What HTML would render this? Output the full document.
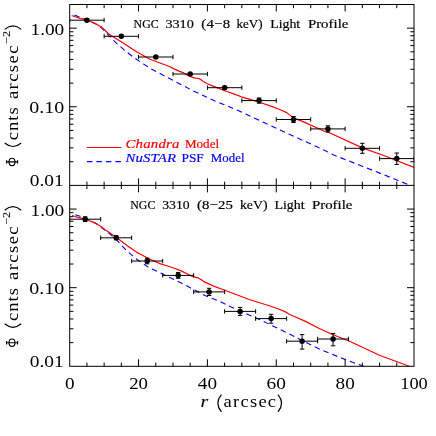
<!DOCTYPE html>
<html><head><meta charset="utf-8"><title>NGC 3310 Light Profile</title>
<style>html,body{margin:0;padding:0;background:#fff;}body{width:436px;height:436px;overflow:hidden;font-family:"Liberation Serif",serif;}svg{display:block;}</style></head>
<body>
<svg width="436" height="436" viewBox="0 0 436 436">
<rect width="436" height="436" fill="#fff"/>
<defs><clipPath id="c1"><rect x="69.70" y="4.50" width="344.30" height="180.90"/></clipPath><clipPath id="c2"><rect x="69.70" y="185.40" width="344.30" height="180.90"/></clipPath></defs>
<polyline points="74.3,15.1 80.0,17.3 87.0,20.0 94.0,23.0 100.0,26.5 105.0,31.3 109.0,35.8 116.6,43.3 125.0,50.6 133.0,56.9 142.0,63.1 150.7,68.6 170.0,78.8 191.3,89.9 215.0,101.0 237.0,110.0 280.0,130.0 325.0,150.5 333.0,154.7 362.4,166.3 409.5,185.0 414.0,187.0" fill="none" stroke="#0000ff" stroke-width="1.1" stroke-linejoin="round" stroke-dasharray="5.5,4" clip-path="url(#c1)"/>
<polyline points="71.7,15.5 76.0,17.0 80.5,18.6 85.0,19.2 87.0,20.2 96.0,23.9 101.1,26.8 105.0,30.3 109.4,34.6 118.0,39.8 127.0,45.4 137.0,52.0 150.0,59.2 160.0,63.0 170.0,66.7 175.0,69.4 179.6,71.4 183.0,72.6 186.0,74.4 190.0,76.4 194.1,77.9 198.9,78.5 201.0,79.8 203.7,81.7 207.5,83.8 211.7,85.6 218.2,88.1 226.2,91.3 233.0,93.6 241.3,96.8 250.0,99.3 258.8,102.0 272.3,106.6 281.0,110.0 286.7,112.6 293.4,117.9 303.1,121.6 325.0,131.5 330.0,133.0 362.4,147.9 385.7,156.2 414.0,167.5" fill="none" stroke="#ff0000" stroke-width="1.2" stroke-linejoin="round" clip-path="url(#c1)"/>
<polyline points="75.3,214.7 80.0,216.2 85.0,218.0 96.0,223.5 106.0,231.0 110.0,234.0 116.6,239.9 127.0,251.0 137.0,259.5 147.6,266.7 160.0,272.8 181.3,283.0 205.0,295.5 220.0,301.4 230.0,306.6 261.3,320.3 290.0,334.3 303.4,341.1 319.8,349.2 345.2,359.6 361.6,365.5 370.0,369.0" fill="none" stroke="#0000ff" stroke-width="1.1" stroke-linejoin="round" stroke-dasharray="5.5,4" clip-path="url(#c2)"/>
<polyline points="72.1,215.5 75.0,216.5 78.0,217.3 85.0,219.0 96.0,223.4 101.0,226.5 106.3,230.6 116.2,237.3 127.0,245.5 137.0,252.4 140.0,254.0 150.0,259.3 160.0,263.6 166.0,265.5 172.4,267.5 180.6,270.6 187.0,273.8 193.0,276.7 198.2,277.9 201.0,279.6 204.4,281.9 213.7,286.1 221.9,289.2 230.2,292.3 242.6,297.0 250.0,299.8 261.3,303.2 270.0,306.0 279.2,309.2 285.6,311.9 290.2,314.8 295.0,316.7 304.9,321.1 319.8,328.7 333.2,334.7 349.6,341.3 379.4,355.2 409.3,366.2 414.0,368.0" fill="none" stroke="#ff0000" stroke-width="1.2" stroke-linejoin="round" clip-path="url(#c2)"/>
<line x1="86.9" y1="147.5" x2="121.3" y2="147.5" stroke="#ff0000" stroke-width="1.2"/>
<line x1="86.9" y1="161.6" x2="121.3" y2="161.6" stroke="#0000ff" stroke-width="1.1" stroke-dasharray="5.5,4"/>
<rect x="69.70" y="4.50" width="344.30" height="361.80" fill="none" stroke="#000" stroke-width="1.0"/>
<line x1="69.70" y1="185.40" x2="414.00" y2="185.40" stroke="#000" stroke-width="1.0"/>
<line x1="86.92" y1="4.50" x2="86.92" y2="8.20" stroke="#000" stroke-width="1.0"/>
<line x1="86.92" y1="185.40" x2="86.92" y2="181.70" stroke="#000" stroke-width="1.0"/>
<line x1="104.13" y1="4.50" x2="104.13" y2="8.20" stroke="#000" stroke-width="1.0"/>
<line x1="104.13" y1="185.40" x2="104.13" y2="181.70" stroke="#000" stroke-width="1.0"/>
<line x1="121.34" y1="4.50" x2="121.34" y2="8.20" stroke="#000" stroke-width="1.0"/>
<line x1="121.34" y1="185.40" x2="121.34" y2="181.70" stroke="#000" stroke-width="1.0"/>
<line x1="138.56" y1="4.50" x2="138.56" y2="11.50" stroke="#000" stroke-width="1.0"/>
<line x1="138.56" y1="185.40" x2="138.56" y2="178.40" stroke="#000" stroke-width="1.0"/>
<line x1="155.78" y1="4.50" x2="155.78" y2="8.20" stroke="#000" stroke-width="1.0"/>
<line x1="155.78" y1="185.40" x2="155.78" y2="181.70" stroke="#000" stroke-width="1.0"/>
<line x1="172.99" y1="4.50" x2="172.99" y2="8.20" stroke="#000" stroke-width="1.0"/>
<line x1="172.99" y1="185.40" x2="172.99" y2="181.70" stroke="#000" stroke-width="1.0"/>
<line x1="190.20" y1="4.50" x2="190.20" y2="8.20" stroke="#000" stroke-width="1.0"/>
<line x1="190.20" y1="185.40" x2="190.20" y2="181.70" stroke="#000" stroke-width="1.0"/>
<line x1="207.42" y1="4.50" x2="207.42" y2="11.50" stroke="#000" stroke-width="1.0"/>
<line x1="207.42" y1="185.40" x2="207.42" y2="178.40" stroke="#000" stroke-width="1.0"/>
<line x1="224.63" y1="4.50" x2="224.63" y2="8.20" stroke="#000" stroke-width="1.0"/>
<line x1="224.63" y1="185.40" x2="224.63" y2="181.70" stroke="#000" stroke-width="1.0"/>
<line x1="241.85" y1="4.50" x2="241.85" y2="8.20" stroke="#000" stroke-width="1.0"/>
<line x1="241.85" y1="185.40" x2="241.85" y2="181.70" stroke="#000" stroke-width="1.0"/>
<line x1="259.06" y1="4.50" x2="259.06" y2="8.20" stroke="#000" stroke-width="1.0"/>
<line x1="259.06" y1="185.40" x2="259.06" y2="181.70" stroke="#000" stroke-width="1.0"/>
<line x1="276.28" y1="4.50" x2="276.28" y2="11.50" stroke="#000" stroke-width="1.0"/>
<line x1="276.28" y1="185.40" x2="276.28" y2="178.40" stroke="#000" stroke-width="1.0"/>
<line x1="293.50" y1="4.50" x2="293.50" y2="8.20" stroke="#000" stroke-width="1.0"/>
<line x1="293.50" y1="185.40" x2="293.50" y2="181.70" stroke="#000" stroke-width="1.0"/>
<line x1="310.71" y1="4.50" x2="310.71" y2="8.20" stroke="#000" stroke-width="1.0"/>
<line x1="310.71" y1="185.40" x2="310.71" y2="181.70" stroke="#000" stroke-width="1.0"/>
<line x1="327.93" y1="4.50" x2="327.93" y2="8.20" stroke="#000" stroke-width="1.0"/>
<line x1="327.93" y1="185.40" x2="327.93" y2="181.70" stroke="#000" stroke-width="1.0"/>
<line x1="345.14" y1="4.50" x2="345.14" y2="11.50" stroke="#000" stroke-width="1.0"/>
<line x1="345.14" y1="185.40" x2="345.14" y2="178.40" stroke="#000" stroke-width="1.0"/>
<line x1="362.35" y1="4.50" x2="362.35" y2="8.20" stroke="#000" stroke-width="1.0"/>
<line x1="362.35" y1="185.40" x2="362.35" y2="181.70" stroke="#000" stroke-width="1.0"/>
<line x1="379.57" y1="4.50" x2="379.57" y2="8.20" stroke="#000" stroke-width="1.0"/>
<line x1="379.57" y1="185.40" x2="379.57" y2="181.70" stroke="#000" stroke-width="1.0"/>
<line x1="396.78" y1="4.50" x2="396.78" y2="8.20" stroke="#000" stroke-width="1.0"/>
<line x1="396.78" y1="185.40" x2="396.78" y2="181.70" stroke="#000" stroke-width="1.0"/>
<line x1="69.70" y1="161.73" x2="73.40" y2="161.73" stroke="#000" stroke-width="1.0"/>
<line x1="414.00" y1="161.73" x2="410.30" y2="161.73" stroke="#000" stroke-width="1.0"/>
<line x1="69.70" y1="147.89" x2="73.40" y2="147.89" stroke="#000" stroke-width="1.0"/>
<line x1="414.00" y1="147.89" x2="410.30" y2="147.89" stroke="#000" stroke-width="1.0"/>
<line x1="69.70" y1="138.07" x2="73.40" y2="138.07" stroke="#000" stroke-width="1.0"/>
<line x1="414.00" y1="138.07" x2="410.30" y2="138.07" stroke="#000" stroke-width="1.0"/>
<line x1="69.70" y1="130.45" x2="73.40" y2="130.45" stroke="#000" stroke-width="1.0"/>
<line x1="414.00" y1="130.45" x2="410.30" y2="130.45" stroke="#000" stroke-width="1.0"/>
<line x1="69.70" y1="124.22" x2="73.40" y2="124.22" stroke="#000" stroke-width="1.0"/>
<line x1="414.00" y1="124.22" x2="410.30" y2="124.22" stroke="#000" stroke-width="1.0"/>
<line x1="69.70" y1="118.96" x2="73.40" y2="118.96" stroke="#000" stroke-width="1.0"/>
<line x1="414.00" y1="118.96" x2="410.30" y2="118.96" stroke="#000" stroke-width="1.0"/>
<line x1="69.70" y1="114.40" x2="73.40" y2="114.40" stroke="#000" stroke-width="1.0"/>
<line x1="414.00" y1="114.40" x2="410.30" y2="114.40" stroke="#000" stroke-width="1.0"/>
<line x1="69.70" y1="110.38" x2="73.40" y2="110.38" stroke="#000" stroke-width="1.0"/>
<line x1="414.00" y1="110.38" x2="410.30" y2="110.38" stroke="#000" stroke-width="1.0"/>
<line x1="69.70" y1="106.78" x2="76.70" y2="106.78" stroke="#000" stroke-width="1.0"/>
<line x1="414.00" y1="106.78" x2="407.00" y2="106.78" stroke="#000" stroke-width="1.0"/>
<line x1="69.70" y1="83.12" x2="73.40" y2="83.12" stroke="#000" stroke-width="1.0"/>
<line x1="414.00" y1="83.12" x2="410.30" y2="83.12" stroke="#000" stroke-width="1.0"/>
<line x1="69.70" y1="69.27" x2="73.40" y2="69.27" stroke="#000" stroke-width="1.0"/>
<line x1="414.00" y1="69.27" x2="410.30" y2="69.27" stroke="#000" stroke-width="1.0"/>
<line x1="69.70" y1="59.45" x2="73.40" y2="59.45" stroke="#000" stroke-width="1.0"/>
<line x1="414.00" y1="59.45" x2="410.30" y2="59.45" stroke="#000" stroke-width="1.0"/>
<line x1="69.70" y1="51.83" x2="73.40" y2="51.83" stroke="#000" stroke-width="1.0"/>
<line x1="414.00" y1="51.83" x2="410.30" y2="51.83" stroke="#000" stroke-width="1.0"/>
<line x1="69.70" y1="45.61" x2="73.40" y2="45.61" stroke="#000" stroke-width="1.0"/>
<line x1="414.00" y1="45.61" x2="410.30" y2="45.61" stroke="#000" stroke-width="1.0"/>
<line x1="69.70" y1="40.34" x2="73.40" y2="40.34" stroke="#000" stroke-width="1.0"/>
<line x1="414.00" y1="40.34" x2="410.30" y2="40.34" stroke="#000" stroke-width="1.0"/>
<line x1="69.70" y1="35.78" x2="73.40" y2="35.78" stroke="#000" stroke-width="1.0"/>
<line x1="414.00" y1="35.78" x2="410.30" y2="35.78" stroke="#000" stroke-width="1.0"/>
<line x1="69.70" y1="31.76" x2="73.40" y2="31.76" stroke="#000" stroke-width="1.0"/>
<line x1="414.00" y1="31.76" x2="410.30" y2="31.76" stroke="#000" stroke-width="1.0"/>
<line x1="69.70" y1="28.17" x2="76.70" y2="28.17" stroke="#000" stroke-width="1.0"/>
<line x1="414.00" y1="28.17" x2="407.00" y2="28.17" stroke="#000" stroke-width="1.0"/>
<line x1="86.92" y1="185.40" x2="86.92" y2="189.10" stroke="#000" stroke-width="1.0"/>
<line x1="86.92" y1="366.30" x2="86.92" y2="362.60" stroke="#000" stroke-width="1.0"/>
<line x1="104.13" y1="185.40" x2="104.13" y2="189.10" stroke="#000" stroke-width="1.0"/>
<line x1="104.13" y1="366.30" x2="104.13" y2="362.60" stroke="#000" stroke-width="1.0"/>
<line x1="121.34" y1="185.40" x2="121.34" y2="189.10" stroke="#000" stroke-width="1.0"/>
<line x1="121.34" y1="366.30" x2="121.34" y2="362.60" stroke="#000" stroke-width="1.0"/>
<line x1="138.56" y1="185.40" x2="138.56" y2="192.40" stroke="#000" stroke-width="1.0"/>
<line x1="138.56" y1="366.30" x2="138.56" y2="359.30" stroke="#000" stroke-width="1.0"/>
<line x1="155.78" y1="185.40" x2="155.78" y2="189.10" stroke="#000" stroke-width="1.0"/>
<line x1="155.78" y1="366.30" x2="155.78" y2="362.60" stroke="#000" stroke-width="1.0"/>
<line x1="172.99" y1="185.40" x2="172.99" y2="189.10" stroke="#000" stroke-width="1.0"/>
<line x1="172.99" y1="366.30" x2="172.99" y2="362.60" stroke="#000" stroke-width="1.0"/>
<line x1="190.20" y1="185.40" x2="190.20" y2="189.10" stroke="#000" stroke-width="1.0"/>
<line x1="190.20" y1="366.30" x2="190.20" y2="362.60" stroke="#000" stroke-width="1.0"/>
<line x1="207.42" y1="185.40" x2="207.42" y2="192.40" stroke="#000" stroke-width="1.0"/>
<line x1="207.42" y1="366.30" x2="207.42" y2="359.30" stroke="#000" stroke-width="1.0"/>
<line x1="224.63" y1="185.40" x2="224.63" y2="189.10" stroke="#000" stroke-width="1.0"/>
<line x1="224.63" y1="366.30" x2="224.63" y2="362.60" stroke="#000" stroke-width="1.0"/>
<line x1="241.85" y1="185.40" x2="241.85" y2="189.10" stroke="#000" stroke-width="1.0"/>
<line x1="241.85" y1="366.30" x2="241.85" y2="362.60" stroke="#000" stroke-width="1.0"/>
<line x1="259.06" y1="185.40" x2="259.06" y2="189.10" stroke="#000" stroke-width="1.0"/>
<line x1="259.06" y1="366.30" x2="259.06" y2="362.60" stroke="#000" stroke-width="1.0"/>
<line x1="276.28" y1="185.40" x2="276.28" y2="192.40" stroke="#000" stroke-width="1.0"/>
<line x1="276.28" y1="366.30" x2="276.28" y2="359.30" stroke="#000" stroke-width="1.0"/>
<line x1="293.50" y1="185.40" x2="293.50" y2="189.10" stroke="#000" stroke-width="1.0"/>
<line x1="293.50" y1="366.30" x2="293.50" y2="362.60" stroke="#000" stroke-width="1.0"/>
<line x1="310.71" y1="185.40" x2="310.71" y2="189.10" stroke="#000" stroke-width="1.0"/>
<line x1="310.71" y1="366.30" x2="310.71" y2="362.60" stroke="#000" stroke-width="1.0"/>
<line x1="327.93" y1="185.40" x2="327.93" y2="189.10" stroke="#000" stroke-width="1.0"/>
<line x1="327.93" y1="366.30" x2="327.93" y2="362.60" stroke="#000" stroke-width="1.0"/>
<line x1="345.14" y1="185.40" x2="345.14" y2="192.40" stroke="#000" stroke-width="1.0"/>
<line x1="345.14" y1="366.30" x2="345.14" y2="359.30" stroke="#000" stroke-width="1.0"/>
<line x1="362.35" y1="185.40" x2="362.35" y2="189.10" stroke="#000" stroke-width="1.0"/>
<line x1="362.35" y1="366.30" x2="362.35" y2="362.60" stroke="#000" stroke-width="1.0"/>
<line x1="379.57" y1="185.40" x2="379.57" y2="189.10" stroke="#000" stroke-width="1.0"/>
<line x1="379.57" y1="366.30" x2="379.57" y2="362.60" stroke="#000" stroke-width="1.0"/>
<line x1="396.78" y1="185.40" x2="396.78" y2="189.10" stroke="#000" stroke-width="1.0"/>
<line x1="396.78" y1="366.30" x2="396.78" y2="362.60" stroke="#000" stroke-width="1.0"/>
<line x1="69.70" y1="342.63" x2="73.40" y2="342.63" stroke="#000" stroke-width="1.0"/>
<line x1="414.00" y1="342.63" x2="410.30" y2="342.63" stroke="#000" stroke-width="1.0"/>
<line x1="69.70" y1="328.79" x2="73.40" y2="328.79" stroke="#000" stroke-width="1.0"/>
<line x1="414.00" y1="328.79" x2="410.30" y2="328.79" stroke="#000" stroke-width="1.0"/>
<line x1="69.70" y1="318.97" x2="73.40" y2="318.97" stroke="#000" stroke-width="1.0"/>
<line x1="414.00" y1="318.97" x2="410.30" y2="318.97" stroke="#000" stroke-width="1.0"/>
<line x1="69.70" y1="311.35" x2="73.40" y2="311.35" stroke="#000" stroke-width="1.0"/>
<line x1="414.00" y1="311.35" x2="410.30" y2="311.35" stroke="#000" stroke-width="1.0"/>
<line x1="69.70" y1="305.12" x2="73.40" y2="305.12" stroke="#000" stroke-width="1.0"/>
<line x1="414.00" y1="305.12" x2="410.30" y2="305.12" stroke="#000" stroke-width="1.0"/>
<line x1="69.70" y1="299.86" x2="73.40" y2="299.86" stroke="#000" stroke-width="1.0"/>
<line x1="414.00" y1="299.86" x2="410.30" y2="299.86" stroke="#000" stroke-width="1.0"/>
<line x1="69.70" y1="295.30" x2="73.40" y2="295.30" stroke="#000" stroke-width="1.0"/>
<line x1="414.00" y1="295.30" x2="410.30" y2="295.30" stroke="#000" stroke-width="1.0"/>
<line x1="69.70" y1="291.28" x2="73.40" y2="291.28" stroke="#000" stroke-width="1.0"/>
<line x1="414.00" y1="291.28" x2="410.30" y2="291.28" stroke="#000" stroke-width="1.0"/>
<line x1="69.70" y1="287.68" x2="76.70" y2="287.68" stroke="#000" stroke-width="1.0"/>
<line x1="414.00" y1="287.68" x2="407.00" y2="287.68" stroke="#000" stroke-width="1.0"/>
<line x1="69.70" y1="264.02" x2="73.40" y2="264.02" stroke="#000" stroke-width="1.0"/>
<line x1="414.00" y1="264.02" x2="410.30" y2="264.02" stroke="#000" stroke-width="1.0"/>
<line x1="69.70" y1="250.17" x2="73.40" y2="250.17" stroke="#000" stroke-width="1.0"/>
<line x1="414.00" y1="250.17" x2="410.30" y2="250.17" stroke="#000" stroke-width="1.0"/>
<line x1="69.70" y1="240.35" x2="73.40" y2="240.35" stroke="#000" stroke-width="1.0"/>
<line x1="414.00" y1="240.35" x2="410.30" y2="240.35" stroke="#000" stroke-width="1.0"/>
<line x1="69.70" y1="232.73" x2="73.40" y2="232.73" stroke="#000" stroke-width="1.0"/>
<line x1="414.00" y1="232.73" x2="410.30" y2="232.73" stroke="#000" stroke-width="1.0"/>
<line x1="69.70" y1="226.51" x2="73.40" y2="226.51" stroke="#000" stroke-width="1.0"/>
<line x1="414.00" y1="226.51" x2="410.30" y2="226.51" stroke="#000" stroke-width="1.0"/>
<line x1="69.70" y1="221.24" x2="73.40" y2="221.24" stroke="#000" stroke-width="1.0"/>
<line x1="414.00" y1="221.24" x2="410.30" y2="221.24" stroke="#000" stroke-width="1.0"/>
<line x1="69.70" y1="216.68" x2="73.40" y2="216.68" stroke="#000" stroke-width="1.0"/>
<line x1="414.00" y1="216.68" x2="410.30" y2="216.68" stroke="#000" stroke-width="1.0"/>
<line x1="69.70" y1="212.66" x2="73.40" y2="212.66" stroke="#000" stroke-width="1.0"/>
<line x1="414.00" y1="212.66" x2="410.30" y2="212.66" stroke="#000" stroke-width="1.0"/>
<line x1="69.70" y1="209.07" x2="76.70" y2="209.07" stroke="#000" stroke-width="1.0"/>
<line x1="414.00" y1="209.07" x2="407.00" y2="209.07" stroke="#000" stroke-width="1.0"/>
<g clip-path="url(#c1)">
<line x1="69.70" y1="20.20" x2="104.13" y2="20.20" stroke="#000" stroke-width="1.0"/>
<line x1="69.70" y1="18.00" x2="69.70" y2="22.40" stroke="#000" stroke-width="1.0"/>
<line x1="104.13" y1="18.00" x2="104.13" y2="22.40" stroke="#000" stroke-width="1.0"/>
<circle cx="86.92" cy="20.20" r="2.75" fill="#000"/>
<line x1="104.13" y1="36.30" x2="138.56" y2="36.30" stroke="#000" stroke-width="1.0"/>
<line x1="104.13" y1="34.10" x2="104.13" y2="38.50" stroke="#000" stroke-width="1.0"/>
<line x1="138.56" y1="34.10" x2="138.56" y2="38.50" stroke="#000" stroke-width="1.0"/>
<circle cx="121.34" cy="36.30" r="2.75" fill="#000"/>
<line x1="138.56" y1="57.00" x2="172.99" y2="57.00" stroke="#000" stroke-width="1.0"/>
<line x1="138.56" y1="54.80" x2="138.56" y2="59.20" stroke="#000" stroke-width="1.0"/>
<line x1="172.99" y1="54.80" x2="172.99" y2="59.20" stroke="#000" stroke-width="1.0"/>
<circle cx="155.78" cy="57.00" r="2.75" fill="#000"/>
<line x1="172.99" y1="74.00" x2="207.42" y2="74.00" stroke="#000" stroke-width="1.0"/>
<line x1="172.99" y1="71.80" x2="172.99" y2="76.20" stroke="#000" stroke-width="1.0"/>
<line x1="207.42" y1="71.80" x2="207.42" y2="76.20" stroke="#000" stroke-width="1.0"/>
<circle cx="190.20" cy="74.00" r="2.75" fill="#000"/>
<line x1="207.42" y1="87.70" x2="241.85" y2="87.70" stroke="#000" stroke-width="1.0"/>
<line x1="207.42" y1="85.50" x2="207.42" y2="89.90" stroke="#000" stroke-width="1.0"/>
<line x1="241.85" y1="85.50" x2="241.85" y2="89.90" stroke="#000" stroke-width="1.0"/>
<line x1="224.63" y1="86.20" x2="224.63" y2="89.20" stroke="#000" stroke-width="1.0"/>
<line x1="222.44" y1="86.20" x2="226.83" y2="86.20" stroke="#000" stroke-width="1.0"/>
<line x1="222.44" y1="89.20" x2="226.83" y2="89.20" stroke="#000" stroke-width="1.0"/>
<circle cx="224.63" cy="87.70" r="2.75" fill="#000"/>
<line x1="241.85" y1="100.60" x2="276.28" y2="100.60" stroke="#000" stroke-width="1.0"/>
<line x1="241.85" y1="98.40" x2="241.85" y2="102.80" stroke="#000" stroke-width="1.0"/>
<line x1="276.28" y1="98.40" x2="276.28" y2="102.80" stroke="#000" stroke-width="1.0"/>
<line x1="259.06" y1="98.00" x2="259.06" y2="103.20" stroke="#000" stroke-width="1.0"/>
<line x1="256.87" y1="98.00" x2="261.26" y2="98.00" stroke="#000" stroke-width="1.0"/>
<line x1="256.87" y1="103.20" x2="261.26" y2="103.20" stroke="#000" stroke-width="1.0"/>
<circle cx="259.06" cy="100.60" r="2.75" fill="#000"/>
<line x1="276.28" y1="119.50" x2="310.71" y2="119.50" stroke="#000" stroke-width="1.0"/>
<line x1="276.28" y1="117.30" x2="276.28" y2="121.70" stroke="#000" stroke-width="1.0"/>
<line x1="310.71" y1="117.30" x2="310.71" y2="121.70" stroke="#000" stroke-width="1.0"/>
<line x1="293.50" y1="116.50" x2="293.50" y2="122.50" stroke="#000" stroke-width="1.0"/>
<line x1="291.30" y1="116.50" x2="295.69" y2="116.50" stroke="#000" stroke-width="1.0"/>
<line x1="291.30" y1="122.50" x2="295.69" y2="122.50" stroke="#000" stroke-width="1.0"/>
<circle cx="293.50" cy="119.50" r="2.75" fill="#000"/>
<line x1="310.71" y1="128.90" x2="345.14" y2="128.90" stroke="#000" stroke-width="1.0"/>
<line x1="310.71" y1="126.70" x2="310.71" y2="131.10" stroke="#000" stroke-width="1.0"/>
<line x1="345.14" y1="126.70" x2="345.14" y2="131.10" stroke="#000" stroke-width="1.0"/>
<line x1="327.93" y1="125.80" x2="327.93" y2="132.00" stroke="#000" stroke-width="1.0"/>
<line x1="325.73" y1="125.80" x2="330.12" y2="125.80" stroke="#000" stroke-width="1.0"/>
<line x1="325.73" y1="132.00" x2="330.12" y2="132.00" stroke="#000" stroke-width="1.0"/>
<circle cx="327.93" cy="128.90" r="2.75" fill="#000"/>
<line x1="345.14" y1="148.30" x2="379.57" y2="148.30" stroke="#000" stroke-width="1.0"/>
<line x1="345.14" y1="146.10" x2="345.14" y2="150.50" stroke="#000" stroke-width="1.0"/>
<line x1="379.57" y1="146.10" x2="379.57" y2="150.50" stroke="#000" stroke-width="1.0"/>
<line x1="362.35" y1="143.30" x2="362.35" y2="153.30" stroke="#000" stroke-width="1.0"/>
<line x1="360.15" y1="143.30" x2="364.55" y2="143.30" stroke="#000" stroke-width="1.0"/>
<line x1="360.15" y1="153.30" x2="364.55" y2="153.30" stroke="#000" stroke-width="1.0"/>
<circle cx="362.35" cy="148.30" r="2.75" fill="#000"/>
<line x1="379.57" y1="158.60" x2="414.00" y2="158.60" stroke="#000" stroke-width="1.0"/>
<line x1="379.57" y1="156.40" x2="379.57" y2="160.80" stroke="#000" stroke-width="1.0"/>
<line x1="414.00" y1="156.40" x2="414.00" y2="160.80" stroke="#000" stroke-width="1.0"/>
<line x1="396.78" y1="153.00" x2="396.78" y2="164.40" stroke="#000" stroke-width="1.0"/>
<line x1="394.58" y1="153.00" x2="398.98" y2="153.00" stroke="#000" stroke-width="1.0"/>
<line x1="394.58" y1="164.40" x2="398.98" y2="164.40" stroke="#000" stroke-width="1.0"/>
<circle cx="396.78" cy="158.60" r="2.75" fill="#000"/>
</g><g clip-path="url(#c2)">
<line x1="69.70" y1="219.20" x2="100.69" y2="219.20" stroke="#000" stroke-width="1.0"/>
<line x1="69.70" y1="217.00" x2="69.70" y2="221.40" stroke="#000" stroke-width="1.0"/>
<line x1="100.69" y1="217.00" x2="100.69" y2="221.40" stroke="#000" stroke-width="1.0"/>
<line x1="85.19" y1="216.80" x2="85.19" y2="221.60" stroke="#000" stroke-width="1.0"/>
<line x1="82.99" y1="216.80" x2="87.39" y2="216.80" stroke="#000" stroke-width="1.0"/>
<line x1="82.99" y1="221.60" x2="87.39" y2="221.60" stroke="#000" stroke-width="1.0"/>
<circle cx="85.19" cy="219.20" r="2.75" fill="#000"/>
<line x1="100.69" y1="237.80" x2="131.67" y2="237.80" stroke="#000" stroke-width="1.0"/>
<line x1="100.69" y1="235.60" x2="100.69" y2="240.00" stroke="#000" stroke-width="1.0"/>
<line x1="131.67" y1="235.60" x2="131.67" y2="240.00" stroke="#000" stroke-width="1.0"/>
<line x1="116.18" y1="235.80" x2="116.18" y2="239.80" stroke="#000" stroke-width="1.0"/>
<line x1="113.98" y1="235.80" x2="118.38" y2="235.80" stroke="#000" stroke-width="1.0"/>
<line x1="113.98" y1="239.80" x2="118.38" y2="239.80" stroke="#000" stroke-width="1.0"/>
<circle cx="116.18" cy="237.80" r="2.75" fill="#000"/>
<line x1="131.67" y1="261.00" x2="162.66" y2="261.00" stroke="#000" stroke-width="1.0"/>
<line x1="131.67" y1="258.80" x2="131.67" y2="263.20" stroke="#000" stroke-width="1.0"/>
<line x1="162.66" y1="258.80" x2="162.66" y2="263.20" stroke="#000" stroke-width="1.0"/>
<line x1="147.17" y1="258.20" x2="147.17" y2="263.80" stroke="#000" stroke-width="1.0"/>
<line x1="144.97" y1="258.20" x2="149.37" y2="258.20" stroke="#000" stroke-width="1.0"/>
<line x1="144.97" y1="263.80" x2="149.37" y2="263.80" stroke="#000" stroke-width="1.0"/>
<circle cx="147.17" cy="261.00" r="2.75" fill="#000"/>
<line x1="162.66" y1="275.40" x2="193.65" y2="275.40" stroke="#000" stroke-width="1.0"/>
<line x1="162.66" y1="273.20" x2="162.66" y2="277.60" stroke="#000" stroke-width="1.0"/>
<line x1="193.65" y1="273.20" x2="193.65" y2="277.60" stroke="#000" stroke-width="1.0"/>
<line x1="178.15" y1="272.50" x2="178.15" y2="278.30" stroke="#000" stroke-width="1.0"/>
<line x1="175.95" y1="272.50" x2="180.35" y2="272.50" stroke="#000" stroke-width="1.0"/>
<line x1="175.95" y1="278.30" x2="180.35" y2="278.30" stroke="#000" stroke-width="1.0"/>
<circle cx="178.15" cy="275.40" r="2.75" fill="#000"/>
<line x1="193.65" y1="291.90" x2="224.63" y2="291.90" stroke="#000" stroke-width="1.0"/>
<line x1="193.65" y1="289.70" x2="193.65" y2="294.10" stroke="#000" stroke-width="1.0"/>
<line x1="224.63" y1="289.70" x2="224.63" y2="294.10" stroke="#000" stroke-width="1.0"/>
<line x1="209.14" y1="288.30" x2="209.14" y2="295.50" stroke="#000" stroke-width="1.0"/>
<line x1="206.94" y1="288.30" x2="211.34" y2="288.30" stroke="#000" stroke-width="1.0"/>
<line x1="206.94" y1="295.50" x2="211.34" y2="295.50" stroke="#000" stroke-width="1.0"/>
<circle cx="209.14" cy="291.90" r="2.75" fill="#000"/>
<line x1="224.63" y1="311.40" x2="255.62" y2="311.40" stroke="#000" stroke-width="1.0"/>
<line x1="224.63" y1="309.20" x2="224.63" y2="313.60" stroke="#000" stroke-width="1.0"/>
<line x1="255.62" y1="309.20" x2="255.62" y2="313.60" stroke="#000" stroke-width="1.0"/>
<line x1="240.13" y1="307.40" x2="240.13" y2="315.40" stroke="#000" stroke-width="1.0"/>
<line x1="237.93" y1="307.40" x2="242.33" y2="307.40" stroke="#000" stroke-width="1.0"/>
<line x1="237.93" y1="315.40" x2="242.33" y2="315.40" stroke="#000" stroke-width="1.0"/>
<circle cx="240.13" cy="311.40" r="2.75" fill="#000"/>
<line x1="255.62" y1="318.60" x2="286.61" y2="318.60" stroke="#000" stroke-width="1.0"/>
<line x1="255.62" y1="316.40" x2="255.62" y2="320.80" stroke="#000" stroke-width="1.0"/>
<line x1="286.61" y1="316.40" x2="286.61" y2="320.80" stroke="#000" stroke-width="1.0"/>
<line x1="271.12" y1="314.30" x2="271.12" y2="323.20" stroke="#000" stroke-width="1.0"/>
<line x1="268.92" y1="314.30" x2="273.32" y2="314.30" stroke="#000" stroke-width="1.0"/>
<line x1="268.92" y1="323.20" x2="273.32" y2="323.20" stroke="#000" stroke-width="1.0"/>
<circle cx="271.12" cy="318.60" r="2.75" fill="#000"/>
<line x1="286.61" y1="341.20" x2="317.60" y2="341.20" stroke="#000" stroke-width="1.0"/>
<line x1="286.61" y1="339.00" x2="286.61" y2="343.40" stroke="#000" stroke-width="1.0"/>
<line x1="317.60" y1="339.00" x2="317.60" y2="343.40" stroke="#000" stroke-width="1.0"/>
<line x1="302.10" y1="334.60" x2="302.10" y2="349.10" stroke="#000" stroke-width="1.0"/>
<line x1="299.90" y1="334.60" x2="304.30" y2="334.60" stroke="#000" stroke-width="1.0"/>
<line x1="299.90" y1="349.10" x2="304.30" y2="349.10" stroke="#000" stroke-width="1.0"/>
<circle cx="302.10" cy="341.20" r="2.75" fill="#000"/>
<line x1="317.60" y1="339.00" x2="348.58" y2="339.00" stroke="#000" stroke-width="1.0"/>
<line x1="317.60" y1="336.80" x2="317.60" y2="341.20" stroke="#000" stroke-width="1.0"/>
<line x1="348.58" y1="336.80" x2="348.58" y2="341.20" stroke="#000" stroke-width="1.0"/>
<line x1="333.09" y1="333.60" x2="333.09" y2="345.80" stroke="#000" stroke-width="1.0"/>
<line x1="330.89" y1="333.60" x2="335.29" y2="333.60" stroke="#000" stroke-width="1.0"/>
<line x1="330.89" y1="345.80" x2="335.29" y2="345.80" stroke="#000" stroke-width="1.0"/>
<circle cx="333.09" cy="339.00" r="2.75" fill="#000"/>
</g>
<g font-family="'Liberation Serif', serif" opacity="0.999">
<text transform="translate(64.90,389.20) scale(1.2000,1)" font-size="16" fill="#000" stroke="#000" stroke-width="0" >0</text>
<text transform="translate(129.16,389.20) scale(1.1750,1)" font-size="16" fill="#000" stroke="#000" stroke-width="0" >20</text>
<text transform="translate(197.82,389.20) scale(1.2000,1)" font-size="16" fill="#000" stroke="#000" stroke-width="0" >40</text>
<text transform="translate(266.58,389.20) scale(1.2125,1)" font-size="16" fill="#000" stroke="#000" stroke-width="0" >60</text>
<text transform="translate(335.54,389.20) scale(1.2000,1)" font-size="16" fill="#000" stroke="#000" stroke-width="0" >80</text>
<text transform="translate(400.20,389.20) scale(1.1500,1)" font-size="16" fill="#000" stroke="#000" stroke-width="0" >100</text>
<text transform="translate(30.50,34.67) scale(1.2071,1)" font-size="16" fill="#000" stroke="#000" stroke-width="0" >1.00</text>
<text transform="translate(29.30,113.28) scale(1.2500,1)" font-size="16" fill="#000" stroke="#000" stroke-width="0" >0.10</text>
<text transform="translate(29.70,186.40) scale(1.2107,1)" font-size="16" fill="#000" stroke="#000" stroke-width="0" >0.01</text>
<text transform="translate(30.50,215.57) scale(1.2071,1)" font-size="16" fill="#000" stroke="#000" stroke-width="0" >1.00</text>
<text transform="translate(29.30,294.18) scale(1.2500,1)" font-size="16" fill="#000" stroke="#000" stroke-width="0" >0.10</text>
<text transform="translate(29.70,367.30) scale(1.2107,1)" font-size="16" fill="#000" stroke="#000" stroke-width="0" >0.01</text>
<text transform="translate(133.60,28.40) scale(0.9108,1)" font-size="13" fill="#000" stroke="#000" stroke-width="0.2" >NGC</text>
<text transform="translate(165.40,28.40) scale(1.0923,1)" font-size="13" fill="#000" stroke="#000" stroke-width="0.2" >3310</text>
<text transform="translate(201.20,28.40) scale(1.1400,1)" font-size="13" fill="#000" stroke="#000" stroke-width="0.2" textLength="25.35" lengthAdjust="spacing" >(4&#8722;8</text>
<text transform="translate(236.40,28.40) scale(1.0043,1)" font-size="13" fill="#000" stroke="#000" stroke-width="0.2" >keV)</text>
<text transform="translate(270.20,28.40) scale(1.0652,1)" font-size="13" fill="#000" stroke="#000" stroke-width="0.2" >Light</text>
<text transform="translate(307.90,28.40) scale(1.1400,1)" font-size="13" fill="#000" stroke="#000" stroke-width="0.2" textLength="35.53" lengthAdjust="spacing" >Profile</text>
<text transform="translate(130.30,209.00) scale(0.9108,1)" font-size="13" fill="#000" stroke="#000" stroke-width="0.2" >NGC</text>
<text transform="translate(162.20,209.00) scale(1.0577,1)" font-size="13" fill="#000" stroke="#000" stroke-width="0.2" >3310</text>
<text transform="translate(197.10,209.00) scale(1.1400,1)" font-size="13" fill="#000" stroke="#000" stroke-width="0.2" textLength="31.40" lengthAdjust="spacing" >(8&#8722;25</text>
<text transform="translate(240.00,209.00) scale(1.0582,1)" font-size="13" fill="#000" stroke="#000" stroke-width="0.2" >keV)</text>
<text transform="translate(274.40,209.00) scale(1.0758,1)" font-size="13" fill="#000" stroke="#000" stroke-width="0.2" >Light</text>
<text transform="translate(312.10,209.00) scale(1.1362,1)" font-size="13" fill="#000" stroke="#000" stroke-width="0.2" >Profile</text>
<text transform="translate(125.40,148.20) scale(1.1400,1)" font-size="13" fill="#ff0000" stroke="#ff0000" stroke-width="0.2" textLength="47.46" lengthAdjust="spacing" font-style="italic" >Chandra</text>
<text transform="translate(185.00,148.20) scale(1.0047,1)" font-size="13" fill="#ff0000" stroke="#ff0000" stroke-width="0.2" >Model</text>
<text transform="translate(125.40,162.00) scale(1.1400,1)" font-size="13" fill="#0000ff" stroke="#0000ff" stroke-width="0.2" textLength="44.39" lengthAdjust="spacing" font-style="italic" >NuSTAR</text>
<text transform="translate(181.50,162.00) scale(1.0281,1)" font-size="13" fill="#0000ff" stroke="#0000ff" stroke-width="0.2" >PSF</text>
<text transform="translate(210.80,162.00) scale(0.9929,1)" font-size="13" fill="#0000ff" stroke="#0000ff" stroke-width="0.2" >Model</text>
<text transform="translate(200.40,407.40) scale(1.1400,1)" font-size="17.5" fill="#000" stroke="#000" stroke-width="0.1" font-style="italic" >r</text>
<path d="M 221.4,394.6 Q 214.2,403.2 221.4,411.8" stroke="#000" stroke-width="1.2" fill="none"/>
<path d="M 278.0,394.6 Q 285.2,403.2 278.0,411.8" stroke="#000" stroke-width="1.2" fill="none"/>
<text transform="translate(223.50,407.40) scale(1.0600,1)" font-size="17.5" fill="#000" stroke="#000" stroke-width="0" textLength="49.62" lengthAdjust="spacing" >arcsec</text>
<g transform="translate(18,94.9) rotate(-90)">
<path d="M -67.00,-11.4 L -67.00,-0.4 M -68.70,-11.4 h 3.4 M -68.70,-0.4 h 3.4" stroke="#000" stroke-width="1.15" fill="none"/>
<ellipse cx="-67.00" cy="-6.0" rx="3.7" ry="3.0" stroke="#000" stroke-width="1.15" fill="none"/>
<path d="M -48.1,-13.3 Q -55.1,-5.05 -48.1,3.2" stroke="#000" stroke-width="1.2" fill="none"/>
<path d="M 65.5,-13.3 Q 72.5,-5.05 65.5,3.2" stroke="#000" stroke-width="1.2" fill="none"/>
<text transform="translate(-45.40,-0.30) scale(1.0600,1)" font-size="17.5" fill="#000" stroke="#000" stroke-width="0" textLength="31.13" lengthAdjust="spacing" >cnts</text>
<text transform="translate(-4.20,-0.30) scale(1.0600,1)" font-size="17.5" fill="#000" stroke="#000" stroke-width="0" textLength="50.47" lengthAdjust="spacing" >arcsec</text>
<text transform="translate(50.90,-7.90) scale(1.1313,1)" font-size="10.8" fill="#000" stroke="#000" stroke-width="0.1" >&#8722;2</text>
</g>
<g transform="translate(18,275.7) rotate(-90)">
<path d="M -67.00,-11.4 L -67.00,-0.4 M -68.70,-11.4 h 3.4 M -68.70,-0.4 h 3.4" stroke="#000" stroke-width="1.15" fill="none"/>
<ellipse cx="-67.00" cy="-6.0" rx="3.7" ry="3.0" stroke="#000" stroke-width="1.15" fill="none"/>
<path d="M -48.1,-13.3 Q -55.1,-5.05 -48.1,3.2" stroke="#000" stroke-width="1.2" fill="none"/>
<path d="M 65.5,-13.3 Q 72.5,-5.05 65.5,3.2" stroke="#000" stroke-width="1.2" fill="none"/>
<text transform="translate(-45.40,-0.30) scale(1.0600,1)" font-size="17.5" fill="#000" stroke="#000" stroke-width="0" textLength="31.13" lengthAdjust="spacing" >cnts</text>
<text transform="translate(-4.20,-0.30) scale(1.0600,1)" font-size="17.5" fill="#000" stroke="#000" stroke-width="0" textLength="50.47" lengthAdjust="spacing" >arcsec</text>
<text transform="translate(50.90,-7.90) scale(1.1313,1)" font-size="10.8" fill="#000" stroke="#000" stroke-width="0.1" >&#8722;2</text>
</g>
</g>
</svg>
</body></html>
